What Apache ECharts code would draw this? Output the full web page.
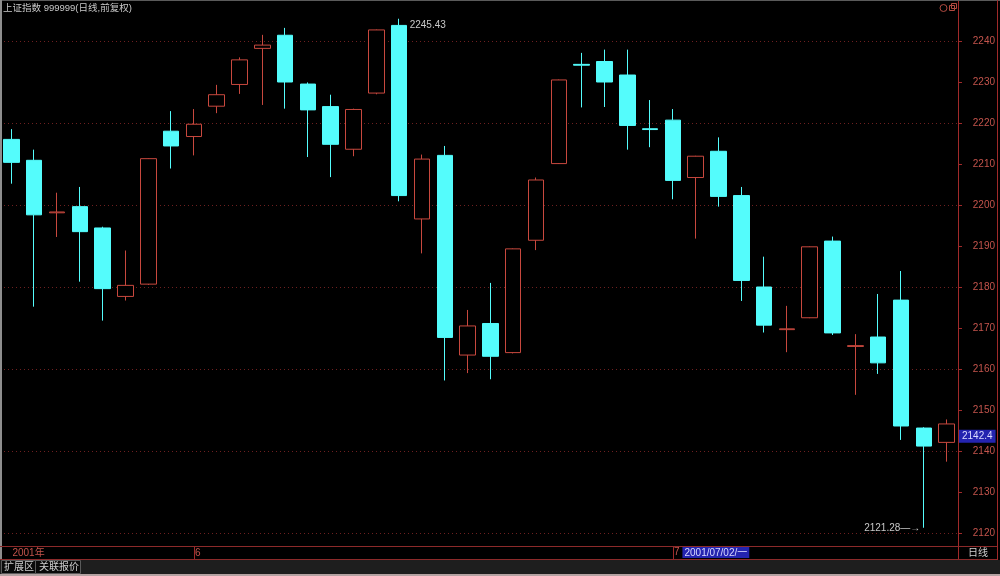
<!DOCTYPE html>
<html><head><meta charset="utf-8">
<script src="https://cdn.jsdelivr.net/npm/echarts@6/dist/echarts.min.js"></script>
<style>html,body{margin:0;padding:0;background:#000;overflow:hidden}#c{width:1000px;height:576px}</style>
</head><body><div id="c"></div>
<script>
const dates = [
 '2001-05-22','2001-05-23','2001-05-24','2001-05-25','2001-05-28','2001-05-29','2001-05-30','2001-05-31',
 '2001-06-01','2001-06-04','2001-06-05','2001-06-06','2001-06-07','2001-06-08','2001-06-11','2001-06-12',
 '2001-06-13','2001-06-14','2001-06-15','2001-06-18','2001-06-19','2001-06-20','2001-06-21','2001-06-22',
 '2001-06-25','2001-06-26','2001-06-27','2001-06-28','2001-06-29',
 '2001-07-02','2001-07-03','2001-07-04','2001-07-05','2001-07-06','2001-07-09','2001-07-10','2001-07-11',
 '2001-07-12','2001-07-13','2001-07-16','2001-07-17','2001-07-18'];
const opens = [2216.0,2210.9,2198.1,2199.6,2194.4,2177.7,2180.7,2218.0,2216.7,2224.1,
 2229.4,2238.2,2241.4,2229.5,2224.0,2213.6,2227.3,2243.8,2196.6,2212.1,
 2163.4,2171.1,2164.0,2191.4,2210.1,2234.3,2235.0,2231.7,2218.6,2220.7,
 2206.7,2213.1,2202.3,2180.0,2169.6,2172.5,2191.2,2165.5,2167.8,2176.8,
 2145.6,2142.1];
const closes = [2210.4,2197.6,2198.3,2193.5,2179.6,2180.4,2211.3,2214.4,2219.7,2226.9,
 2235.4,2239.0,2230.0,2223.2,2214.8,2223.3,2242.7,2202.3,2211.2,2167.7,
 2170.5,2163.1,2189.3,2206.1,2230.5,2234.1,2230.0,2219.4,2218.4,2206.0,
 2211.9,2202.1,2181.6,2170.7,2169.8,2189.8,2168.8,2165.7,2161.5,2146.1,
 2141.2,2146.6];
const lows = [2205.2,2175.2,2192.2,2181.3,2171.8,2176.7,2180.5,2208.9,2212.1,2222.4,
 2227.1,2224.4,2223.5,2211.7,2206.8,2211.9,2227.0,2200.9,2188.2,2157.2,
 2159.0,2157.5,2163.8,2189.0,2210.0,2223.8,2223.9,2213.5,2214.1,2201.4,
 2191.8,2199.6,2176.6,2168.9,2164.1,2172.4,2168.3,2153.7,2158.8,2142.7,
 2121.28,2137.4];
const highs = [2218.5,2213.5,2203.0,2204.4,2194.7,2188.9,2211.4,2222.9,2223.4,2229.3,
 2236.0,2241.5,2243.2,2229.9,2226.9,2223.5,2242.8,2245.43,2212.3,2214.4,
 2174.4,2181.0,2189.4,2206.7,2230.6,2237.1,2237.9,2237.9,2225.6,2223.4,
 2212.0,2216.5,2204.4,2187.4,2175.4,2189.9,2192.3,2168.5,2178.3,2183.9,
 2145.8,2147.7];
const monthDates = ['2001-05-22','2001-06-01','2001-07-02'];
const monthTexts = ['2001年','6','7'];
const separatorDates = ['2001-06-01','2001-07-02'];
const cursorDate = '2001-07-02';
const cursorDateText = '2001/07/02/一';
const cursorPrice = 2142.4;
const titleText = '上证指数 999999(日线,前复权)';
const periodText = '日线';
const tabTexts = ['扩展区','关联报价'];

const RED = '#c8483e', AXIS = '#a02a2a', CYAN = '#54fcfc', LBL = '#c4544c';
const FONT = '"Liberation Sans","Noto Sans CJK SC",sans-serif';
const kdata = dates.map((d,i)=>[opens[i],closes[i],lows[i],highs[i]]);

const chart = echarts.init(document.getElementById('c'), null, {renderer:'canvas'});
chart.setOption({
  animation:false,
  backgroundColor:'#000',
  grid:[{left:-1,right:42,top:0,bottom:2},{left:-1,right:42,top:546,height:13}],
  xAxis:[
    {type:'category',data:dates,gridIndex:0,show:false,boundaryGap:true},
    {type:'category',data:dates,gridIndex:1,boundaryGap:true,
     axisLine:{show:false},
     axisTick:{show:true,inside:true,length:13,alignWithLabel:true,
       interval:(i,v)=>separatorDates.includes(v),lineStyle:{color:AXIS}},
     axisLabel:{show:true,inside:true,margin:1,align:'left',
       interval:(i,v)=>monthDates.includes(v),
       formatter:(v)=>{const k=monthDates.indexOf(v); if(k<0) return '';
         return v===cursorDate ? '{m|'+monthTexts[k]+'}{d|'+cursorDateText+'}' : '{m|'+monthTexts[k]+'}';},
       rich:{m:{color:LBL,fontSize:10,fontFamily:FONT,padding:[0,3,0,1]},
             d:{color:'#d8d8ff',fontSize:10,fontFamily:FONT,backgroundColor:'#2424b0',padding:[1,2,0,2]}}}}
  ],
  yAxis:[
    {type:'value',gridIndex:0,position:'right',min:2110,max:2250,interval:10,
     axisLine:{show:true,lineStyle:{color:AXIS}},
     axisTick:{show:true,length:4,lineStyle:{color:AXIS}},
     axisLabel:{align:'right',margin:37,color:LBL,fontSize:10,fontFamily:FONT,showMinLabel:false,showMaxLabel:false,
       formatter:(v)=>String(v)},
     splitLine:{show:true,lineStyle:{color:['rgba(0,0,0,0)','#6e2020'],type:[1,3],width:1}}},
    {type:'value',gridIndex:1,show:false,min:0,max:1}
  ],
  series:[{
    type:'candlestick',xAxisIndex:0,yAxisIndex:0,data:kdata,barWidth:16,
    itemStyle:{color:'#000',color0:CYAN,borderColor:RED,borderColor0:CYAN,borderWidth:1},
    markPoint:{symbol:'circle',symbolSize:1,itemStyle:{color:'rgba(0,0,0,0)'},
      label:{show:true,color:'#c8c8c8',fontSize:10,fontFamily:FONT},
      data:[
        {type:'max',valueDim:'highest',label:{position:[11,2.5],formatter:p=>Number(p.value).toFixed(2)}},
        {type:'min',valueDim:'lowest',label:{position:'left',distance:3,formatter:p=>Number(p.value).toFixed(2)+'—→'}}
      ]},
    markLine:{symbol:'none',silent:true,clip:false,
      lineStyle:{color:'rgba(0,0,0,0)',width:1,type:'solid'},
      label:{show:true,position:'end',distance:1,offset:[0,-5],formatter:()=>cursorPrice.toFixed(1),
        color:'#dcdcff',backgroundColor:'#2424b0',padding:[2,3,1,3],fontSize:10,fontFamily:FONT},
      data:[{yAxis:cursorPrice}]}
  }],
  graphic:[
    {type:'rect',z:100,shape:{x:0,y:0,width:1000,height:1},style:{fill:'#5a5a5a'}},
    {type:'rect',z:100,shape:{x:0,y:0,width:2,height:560},style:{fill:'#8e8e8e'}},
    {type:'line',z:100,shape:{x1:0,y1:546.5,x2:998,y2:546.5},style:{stroke:'#8c2a2a',lineWidth:1}},
    {type:'line',z:100,shape:{x1:0,y1:559.5,x2:998,y2:559.5},style:{stroke:'#8c2a2a',lineWidth:1}},
    {type:'line',z:100,shape:{x1:997.5,y1:0,x2:997.5,y2:560},style:{stroke:AXIS,lineWidth:1}},
    {type:'rect',z:100,shape:{x:0,y:560,width:1000,height:16},style:{fill:'#1e1e1e'}},
    {type:'rect',z:100,shape:{x:0,y:574,width:1000,height:2},style:{fill:'#b4a2a2'}},
    {type:'rect',z:101,shape:{x:1.5,y:560.5,width:34,height:13},style:{fill:'#0a0a0a',stroke:'#5a5a5a'}},
    {type:'rect',z:101,shape:{x:35.5,y:560.5,width:45,height:13},style:{fill:'#0a0a0a',stroke:'#5a5a5a'}},
    {type:'text',z:102,style:{text:tabTexts[0],x:4,y:567,fill:'#d0d0d0',font:'10px '+FONT,verticalAlign:'middle'}},
    {type:'text',z:102,style:{text:tabTexts[1],x:39,y:567,fill:'#d0d0d0',font:'10px '+FONT,verticalAlign:'middle'}},
    {type:'text',z:102,style:{text:periodText,x:978,y:553,fill:'#d0d0d0',font:'10px '+FONT,align:'center',verticalAlign:'middle'}},
    {type:'text',z:102,style:{text:titleText,x:3,y:8.5,fill:'#c8c8c8',font:'9.5px '+FONT,verticalAlign:'middle'}},
    {type:'circle',z:102,shape:{cx:943.5,cy:8,r:3.5},style:{fill:'none',stroke:'#b04a40',lineWidth:1}},
    {type:'rect',z:102,shape:{x:949.5,y:5.5,width:5,height:5},style:{fill:'none',stroke:'#b04a40',lineWidth:1}},
    {type:'rect',z:102,shape:{x:951.5,y:3.5,width:5,height:5},style:{fill:'none',stroke:'#b04a40',lineWidth:1}}
  ]
});
</script></body></html>
